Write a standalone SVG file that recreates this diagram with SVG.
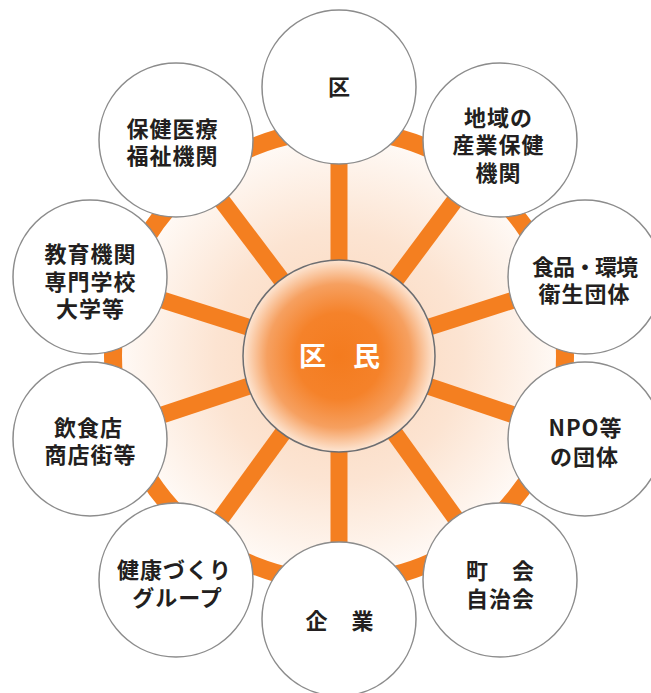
<svg xmlns="http://www.w3.org/2000/svg" width="651" height="693" viewBox="0 0 651 693">
  <defs>
    <radialGradient id="bgGrad" cx="0.5" cy="0.5" r="0.5">
      <stop offset="0" stop-color="#fbd5b8"/>
      <stop offset="0.55" stop-color="#fce4d2"/>
      <stop offset="1" stop-color="#fffbf8"/>
    </radialGradient>
    <radialGradient id="hubGrad" cx="0.5" cy="0.5" r="0.5">
      <stop offset="0" stop-color="#f47b1e"/>
      <stop offset="0.45" stop-color="#f5822a"/>
      <stop offset="0.75" stop-color="#f6a060"/>
      <stop offset="1" stop-color="#fde6d4"/>
    </radialGradient>
    <style>
      .spoke { stroke: #f47f20; stroke-width: 17; }
      .node { fill: #ffffff; stroke: #8c8c8c; stroke-width: 1.5; }
      .lbl { font-family: "Noto Sans CJK JP", "Noto Sans", sans-serif; font-size: 22px; font-weight: 700; letter-spacing: 1px; fill: #231f20; text-anchor: middle; }
      .tight { letter-spacing: -1px; }
      .hubtxt { font-family: "Noto Sans CJK JP", "Noto Sans", sans-serif; font-size: 27px; font-weight: 700; fill: #ffffff; text-anchor: middle; }
    </style>
  </defs>

  <g id="ring">
    <circle cx="339" cy="356" r="226" fill="url(#bgGrad)" stroke="#f47f20" stroke-width="18"/>
  </g>

  <g id="connectors">
    <line class="spoke" x1="339" y1="356" x2="339" y2="87"/>
    <line class="spoke" x1="339" y1="356" x2="500" y2="140"/>
    <line class="spoke" x1="339" y1="356" x2="585" y2="277"/>
    <line class="spoke" x1="339" y1="356" x2="585" y2="439"/>
    <line class="spoke" x1="339" y1="356" x2="500" y2="580"/>
    <line class="spoke" x1="339" y1="356" x2="339" y2="619"/>
    <line class="spoke" x1="339" y1="356" x2="176" y2="580"/>
    <line class="spoke" x1="339" y1="356" x2="90" y2="439"/>
    <line class="spoke" x1="339" y1="356" x2="90" y2="277"/>
    <line class="spoke" x1="339" y1="356" x2="176" y2="140"/>
  </g>

  <g id="hub">
    <circle cx="339" cy="356" r="96" fill="url(#hubGrad)" stroke="#6d6e71" stroke-width="1.5"/>
    <text class="hubtxt" x="339.5" y="366">区　民</text>
  </g>

  <g id="node-ku">
    <circle class="node" cx="339" cy="87" r="77"/>
    <text class="lbl" x="339.5" y="94.5">区</text>
  </g>

  <g id="node-chiiki">
    <circle class="node" cx="500" cy="140" r="77"/>
    <text class="lbl" x="498.5" y="125.5">地域の</text>
    <text class="lbl" x="498.5" y="152.5">産業保健</text>
    <text class="lbl" x="498.5" y="180.5">機関</text>
  </g>

  <g id="node-shokuhin">
    <circle class="node" cx="585" cy="277" r="77"/>
    <text class="lbl tight" x="584.5" y="275">食品・環境</text>
    <text class="lbl" x="584.5" y="302">衛生団体</text>
  </g>

  <g id="node-npo">
    <circle class="node" cx="585" cy="439" r="77"/>
    <text class="lbl" x="585.5" y="436">NPO等</text>
    <text class="lbl" x="584.5" y="465">の団体</text>
  </g>

  <g id="node-chokai">
    <circle class="node" cx="500" cy="580" r="77"/>
    <text class="lbl" x="500.5" y="579">町　会</text>
    <text class="lbl" x="500.5" y="607">自治会</text>
  </g>

  <g id="node-kigyo">
    <circle class="node" cx="339" cy="619" r="77"/>
    <text class="lbl" x="340" y="628.5">企　業</text>
  </g>

  <g id="node-kenko">
    <circle class="node" cx="176" cy="580" r="77"/>
    <text class="lbl" x="174.5" y="578">健康づくり</text>
    <text class="lbl" x="177.5" y="606">グループ</text>
  </g>

  <g id="node-inshoku">
    <circle class="node" cx="90" cy="439" r="77"/>
    <text class="lbl" x="88.5" y="435.5">飲食店</text>
    <text class="lbl" x="90.5" y="462.5">商店街等</text>
  </g>

  <g id="node-kyoiku">
    <circle class="node" cx="90" cy="277" r="77"/>
    <text class="lbl" x="90.5" y="262">教育機関</text>
    <text class="lbl" x="90.5" y="290">専門学校</text>
    <text class="lbl" x="90.5" y="316.5">大学等</text>
  </g>

  <g id="node-hoken">
    <circle class="node" cx="176" cy="140" r="77"/>
    <text class="lbl" x="172.5" y="136.5">保健医療</text>
    <text class="lbl" x="172.5" y="164">福祉機関</text>
  </g>
</svg>
